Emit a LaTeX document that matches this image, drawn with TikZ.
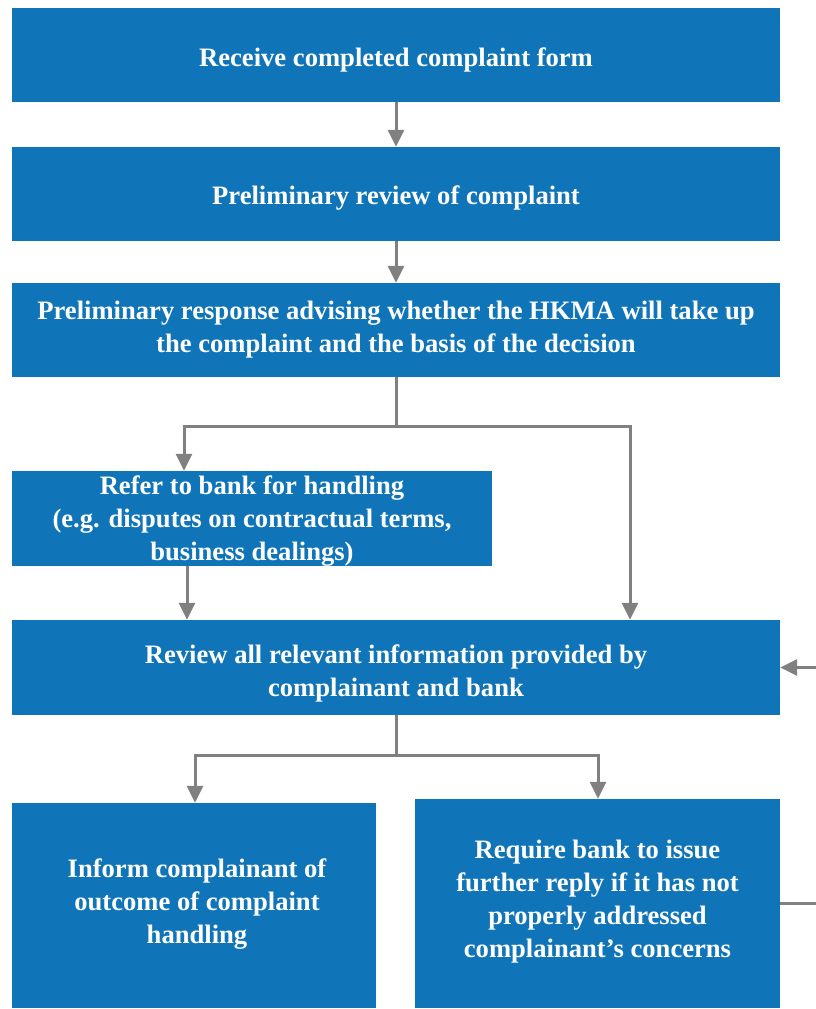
\documentclass[tikz,border=0pt]{standalone}
\usepackage{fontspec}
\setmainfont{Liberation Serif}
\usetikzlibrary{arrows.meta}
\definecolor{boxblue}{HTML}{0F75B8}
\definecolor{arrgray}{HTML}{808080}
\tikzset{
  flowbox/.style={fill=boxblue, draw=none, inner sep=0pt},
  boxtext/.style={text=white, font=\bfseries\fontsize{26.6}{33}\selectfont, align=center, inner sep=0pt},
  arr/.style={draw=arrgray, line width=3pt, -{Triangle[width=16pt,length=17pt]}},
  conn/.style={draw=arrgray, line width=3pt}
}
\begin{document}
\begin{tikzpicture}[x=1pt,y=-1pt]
\useasboundingbox (0,0) rectangle (816,1009);
\clip (0,0) rectangle (816,1009);
\node[flowbox, minimum width=768pt, minimum height=94pt] (b1) at (396,55) {};
\node[flowbox, minimum width=768pt, minimum height=94pt] (b2) at (396,194) {};
\node[flowbox, minimum width=768pt, minimum height=94pt] (b3) at (396,330) {};
\node[flowbox, minimum width=480pt, minimum height=95pt] (b4) at (252,518.5) {};
\node[flowbox, minimum width=768pt, minimum height=95pt] (b5) at (396,667.5) {};
\node[flowbox, minimum width=364pt, minimum height=205pt] (b6) at (194,905.5) {};
\node[flowbox, minimum width=365pt, minimum height=209pt] (b7) at (597.5,903.5) {};
\node[boxtext, yshift=-5pt] (t1) at (b1.center) {Receive completed complaint form};
\node[boxtext, yshift=-4pt] (t2) at (b2.center) {Preliminary review of complaint};
\node[boxtext] (t3) at (b3.center) {Preliminary response advising whether the HKMA will take up\\the complaint and the basis of the decision};
\node[boxtext, yshift=-3pt] (t4) at (b4.center) {Refer to bank for handling\\(e.g. disputes on contractual terms,\\business dealings)};
\node[boxtext, yshift=-6pt] (t5) at (b5.center) {Review all relevant information provided by\\complainant and bank};
\node[boxtext, xshift=3pt, yshift=1pt] (t6) at (b6.center) {Inform complainant of\\outcome of complaint\\handling};
\node[boxtext, yshift=2pt] (t7) at (b7.center) {Require bank to issue\\further reply if it has not\\properly addressed\\complainant’s concerns};
\coordinate (j1) at (396,426);
\coordinate (l1) at (184,426);
\coordinate (r1) at (630,426);
\coordinate (l2) at (187,566);
\coordinate (j2) at (396,755);
\coordinate (l3) at (195,755);
\coordinate (r3) at (598,755);
\coordinate (fb1) at (840,903.5);
\coordinate (fb2) at (840,667.5);
\draw[arr] (b1.south) -- (b2.north);
\draw[arr] (b2.south) -- (b3.north);
\draw[conn] (b3.south) -- (j1);
\draw[arr] (j1) -- (l1) -- (l1 |- b4.north);
\draw[arr] (j1) -- (r1) -- (r1 |- b5.north);
\draw[arr] (l2) -- (l2 |- b5.north);
\draw[conn] (b5.south) -- (j2);
\draw[arr] (j2) -- (l3) -- (l3 |- b6.north);
\draw[arr] (j2) -- (r3) -- (r3 |- b7.north);
\draw[arr] (b7.east) -- (fb1) -- (fb2) -- (b5.east);
\end{tikzpicture}
\end{document}
